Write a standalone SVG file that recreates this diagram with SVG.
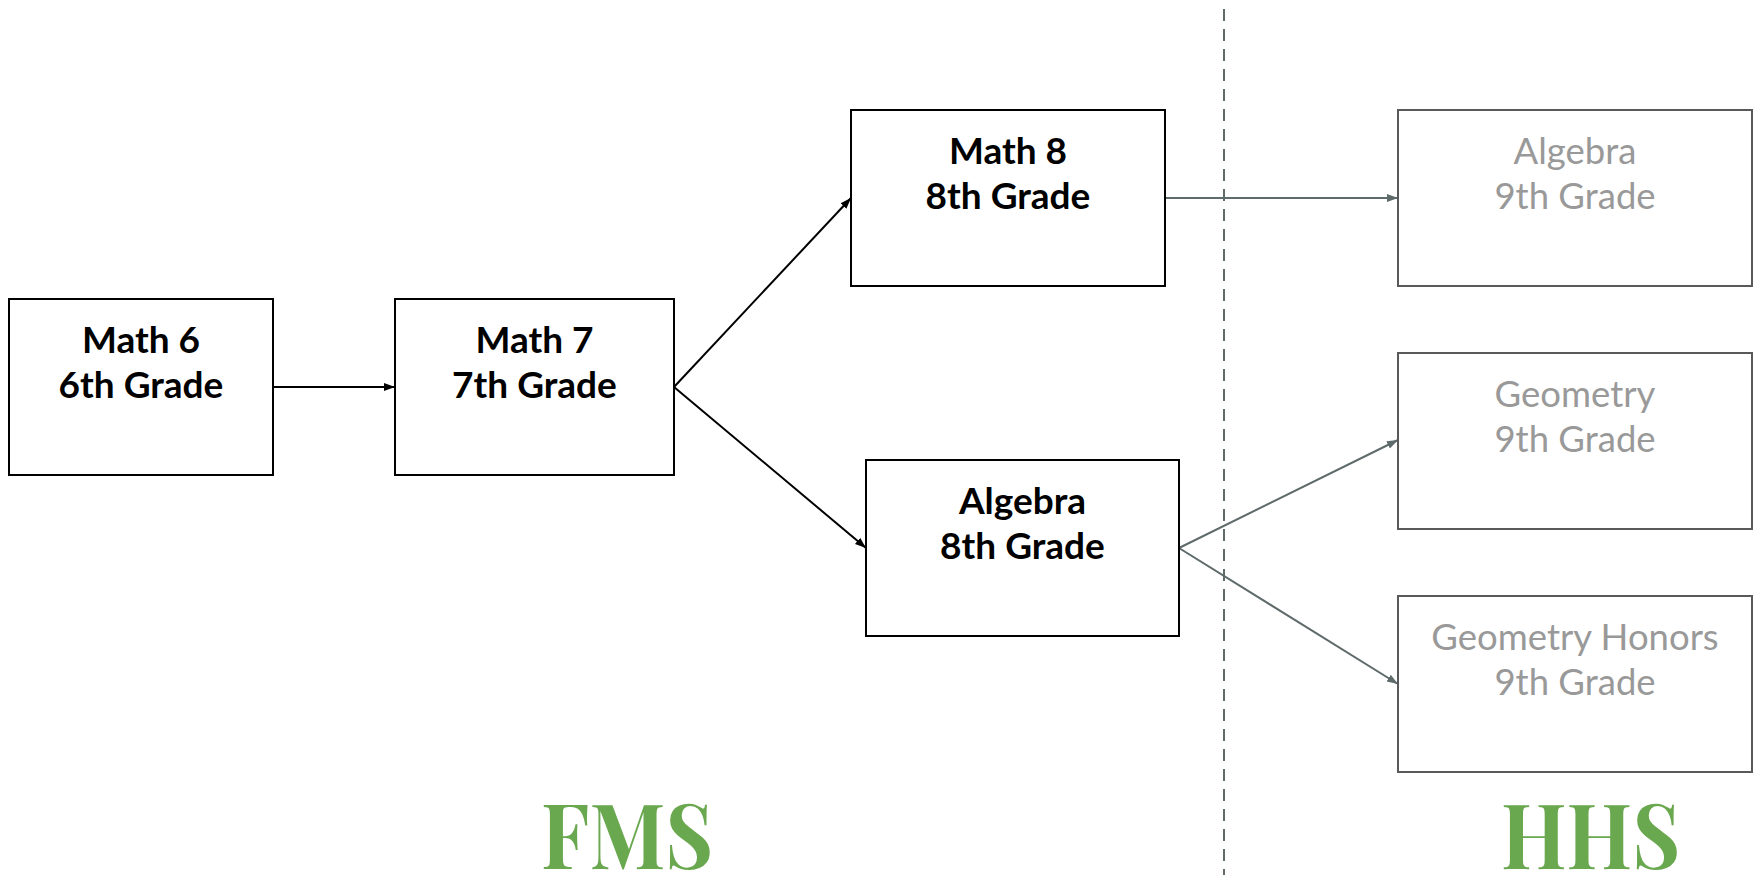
<svg xmlns="http://www.w3.org/2000/svg" width="1756" height="875" viewBox="0 0 1756 875">
<style>
.box{fill:#fff;stroke:#000;stroke-width:2}
.gbox{fill:#fff;stroke:#595959;stroke-width:2}
.t{font-family:Lato,"Liberation Sans",sans-serif;font-weight:bold;font-size:37px;fill:#000;text-anchor:middle}
.g{font-family:Lato,"Liberation Sans",sans-serif;font-size:36.5px;fill:#999;text-anchor:middle}
.ln{stroke:#000;stroke-width:2;fill:none;marker-end:url(#ab)}
.gl{stroke:#5f6a6a;stroke-width:2;fill:none;marker-end:url(#ag)}
.big{font-family:"Playfair Display","Liberation Serif",serif;font-weight:bold;font-size:90px;fill:#6aa84f}
</style>
<defs>
<marker id="ab" markerWidth="12" markerHeight="10" refX="11" refY="5" orient="auto" markerUnits="userSpaceOnUse"><path d="M0,1 L11,5 L0,9 Z" fill="#000"/></marker>
<marker id="ag" markerWidth="12" markerHeight="10" refX="11" refY="5" orient="auto" markerUnits="userSpaceOnUse"><path d="M0,1 L11,5 L0,9 Z" fill="#5f6a6a"/></marker>
</defs>
<line x1="1224" y1="9" x2="1224" y2="875" stroke="#5f6a6a" stroke-width="2" stroke-dasharray="12,8"/>
<g id="connectors">
<line class="ln" x1="273" y1="387" x2="395" y2="387"/>
<line class="ln" x1="674" y1="387" x2="851" y2="198"/>
<line class="ln" x1="674" y1="387" x2="866" y2="548"/>
<line class="gl" x1="1165" y1="198" x2="1398" y2="198"/>
<line class="gl" x1="1179" y1="548" x2="1398" y2="440"/>
<line class="gl" x1="1179" y1="548" x2="1398" y2="684"/>
</g>
<g id="math6"><rect class="box" x="9" y="299" width="264" height="176"/><text class="t" x="141" y="353">Math 6</text><text class="t" x="141" y="398">6th Grade</text></g>
<g id="math7"><rect class="box" x="395" y="299" width="279" height="176"/><text class="t" x="534.5" y="353">Math 7</text><text class="t" x="534.5" y="398">7th Grade</text></g>
<g id="math8"><rect class="box" x="851" y="110" width="314" height="176"/><text class="t" x="1008" y="164">Math 8</text><text class="t" x="1008" y="209">8th Grade</text></g>
<g id="algebra8"><rect class="box" x="866" y="460" width="313" height="176"/><text class="t" x="1022.5" y="514">Algebra</text><text class="t" x="1022.5" y="559">8th Grade</text></g>
<g id="algebra9"><rect class="gbox" x="1398" y="110" width="354" height="176"/><text class="g" x="1575" y="164">Algebra</text><text class="g" x="1575" y="209">9th Grade</text></g>
<g id="geometry9"><rect class="gbox" x="1398" y="353" width="354" height="176"/><text class="g" x="1575" y="407">Geometry</text><text class="g" x="1575" y="452">9th Grade</text></g>
<g id="geohonors9"><rect class="gbox" x="1398" y="596" width="354" height="176"/><text class="g" x="1575" y="650">Geometry Honors</text><text class="g" x="1575" y="695">9th Grade</text></g>
<text class="big" x="541" y="869" textLength="172" lengthAdjust="spacingAndGlyphs">FMS</text>
<text class="big" x="1501" y="869" textLength="179" lengthAdjust="spacingAndGlyphs">HHS</text>
</svg>
